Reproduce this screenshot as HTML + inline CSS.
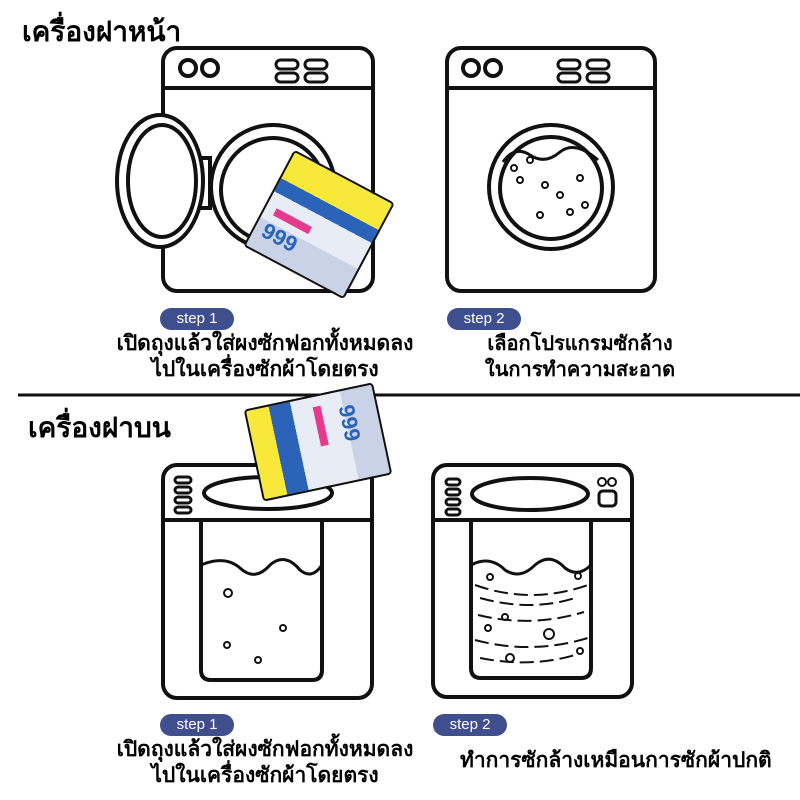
<!DOCTYPE html>
<html><head><meta charset="utf-8"><style>
body{margin:0;background:#fff;width:800px;height:800px;overflow:hidden;position:relative;font-family:"Liberation Sans","Noto Sans CJK SC",sans-serif}
.t{position:absolute;font-weight:bold;color:#000;white-space:nowrap}
.pill{position:absolute;background:#3f4f8e;color:#fff;font-size:15px;border-radius:11px;width:74px;height:22px;line-height:22px;text-align:center}
</style></head><body>
<svg width="800" height="800" style="position:absolute;left:0;top:0" fill="none" stroke="#111" stroke-width="4">
<rect x="163" y="48" width="210" height="243" rx="14"/>
<line x1="163" y1="88" x2="373" y2="88"/>
<circle cx="188" cy="68" r="8"/><circle cx="210" cy="68" r="8"/>
<rect x="276" y="60" width="22" height="9" rx="4.5" stroke-width="3"/><rect x="305" y="60" width="22" height="9" rx="4.5" stroke-width="3"/>
<rect x="276" y="73" width="22" height="9" rx="4.5" stroke-width="3"/><rect x="305" y="73" width="22" height="9" rx="4.5" stroke-width="3"/>
<rect x="198" y="158" width="12" height="50" fill="#fff"/>
<circle cx="273" cy="187" r="62" fill="#fff"/><circle cx="273" cy="190" r="52"/>
<ellipse cx="160" cy="181" rx="43" ry="66" fill="#fff"/><ellipse cx="162" cy="181" rx="34" ry="56"/>
<rect x="447" y="48" width="208" height="243" rx="14"/>
<line x1="447" y1="88" x2="655" y2="88"/>
<circle cx="471" cy="68" r="8"/><circle cx="493" cy="68" r="8"/>
<rect x="558" y="60" width="22" height="9" rx="4.5" stroke-width="3"/><rect x="587" y="60" width="22" height="9" rx="4.5" stroke-width="3"/>
<rect x="558" y="73" width="22" height="9" rx="4.5" stroke-width="3"/><rect x="587" y="73" width="22" height="9" rx="4.5" stroke-width="3"/>
<circle cx="551" cy="187" r="62"/><circle cx="551" cy="188" r="51"/>
<path d="M503 162 Q515 145 530 155 Q545 165 560 152 Q575 140 598 160" stroke-width="3"/>
<g stroke-width="2"><circle cx="514" cy="168" r="3"/><circle cx="530" cy="160" r="3"/><circle cx="545" cy="185" r="3"/><circle cx="580" cy="178" r="3"/><circle cx="520" cy="180" r="3"/><circle cx="560" cy="195" r="3"/><circle cx="585" cy="205" r="3"/><circle cx="540" cy="215" r="3"/><circle cx="570" cy="212" r="3"/></g>
<line x1="18" y1="395" x2="800" y2="395" stroke-width="3"/>
<rect x="163" y="465" width="209" height="233" rx="14"/>
<line x1="163" y1="520" x2="372" y2="520"/>
<ellipse cx="268" cy="493" rx="64" ry="16"/>
<g stroke-width="3"><rect x="175" y="477" width="16" height="6" rx="3"/><rect x="175" y="487" width="16" height="6" rx="3"/><rect x="175" y="497" width="16" height="6" rx="3"/><rect x="175" y="507" width="16" height="6" rx="3"/></g>
<path d="M201 520 V670 Q201 680 211 680 H312 Q322 680 322 670 V520"/>
<path d="M201 565 Q225 555 240 568 Q255 582 270 565 Q285 552 300 570 Q312 580 322 565" stroke-width="3"/>
<g stroke-width="2"><circle cx="228" cy="593" r="4"/><circle cx="227" cy="645" r="3"/><circle cx="283" cy="628" r="3"/><circle cx="258" cy="660" r="3"/></g>
<rect x="433" y="465" width="199" height="232" rx="14"/>
<line x1="433" y1="520" x2="632" y2="520"/>
<ellipse cx="530" cy="494" rx="58" ry="16"/>
<g stroke-width="3"><rect x="446" y="479" width="14" height="6" rx="3"/><rect x="446" y="489" width="14" height="6" rx="3"/><rect x="446" y="499" width="14" height="6" rx="3"/><rect x="446" y="509" width="14" height="6" rx="3"/></g>
<circle cx="602" cy="482" r="4" stroke-width="2"/><circle cx="612" cy="482" r="4" stroke-width="2"/><rect x="599" y="491" width="17" height="15" rx="4" stroke-width="3"/>
<path d="M471 522 V668 Q471 678 481 678 H581 Q591 678 591 668 V522"/>
<path d="M471 565 Q490 555 505 570 Q520 580 535 565 Q550 552 565 568 Q578 578 591 565" stroke-width="3"/>
<g stroke-width="2" stroke-dasharray="14 6"><path d="M475 585 Q531 605 588 585"/><path d="M480 598 Q531 612 575 598"/><path d="M478 615 Q531 628 584 612"/><path d="M475 640 Q531 655 588 638"/><path d="M480 658 Q531 668 575 655"/></g>
<g stroke-width="2"><circle cx="490" cy="577" r="3"/><circle cx="578" cy="576" r="3"/><circle cx="505" cy="617" r="3"/><circle cx="488" cy="628" r="3"/><circle cx="549" cy="634" r="5"/><circle cx="580" cy="651" r="3"/><circle cx="510" cy="658" r="4"/></g>
</svg>
<div style="position:absolute;left:262px;top:170px;width:110px;height:105px;transform:rotate(28deg);border:2px solid #111;border-radius:4px;background:linear-gradient(180deg,#f7e83a 0 28%,#2a63b8 28% 42%,#e8ecf4 42% 70%,#c9d2e6 70%);"><div style="position:absolute;left:8px;top:70px;font-size:22px;font-weight:bold;color:#2a63b8">999</div><div style="position:absolute;left:10px;top:58px;width:40px;height:8px;background:#e63a8c"></div></div>
<div style="position:absolute;left:252px;top:395px;width:128px;height:90px;transform:rotate(-12deg);border:2px solid #111;border-radius:4px;background:linear-gradient(90deg,#f7e83a 0 18%,#2a63b8 18% 35%,#e8ecf4 35% 75%,#c9d2e6 75%);"><div style="position:absolute;left:80px;top:20px;font-size:22px;font-weight:bold;color:#2a63b8;transform:rotate(90deg)">999</div><div style="position:absolute;left:66px;top:10px;width:8px;height:40px;background:#e63a8c"></div></div>
<div class="t" style="left:22px;top:10px;font-size:28px">เครื่องฝาหน้า</div>
<div class="t" style="left:28px;top:406px;font-size:28px">เครื่องฝาบน</div>
<div class="pill" style="left:160px;top:308px">step 1</div>
<div class="pill" style="left:447px;top:308px">step 2</div>
<div class="pill" style="left:160px;top:714px">step 1</div>
<div class="pill" style="left:433px;top:714px">step 2</div>
<div class="t" style="left:65px;top:331px;width:400px;text-align:center;font-size:21px;line-height:26px">เปิดถุงแล้วใส่ผงซักฟอกทั้งหมดลง<br>ไปในเครื่องซักผ้าโดยตรง</div>
<div class="t" style="left:480px;top:331px;width:200px;text-align:center;font-size:20px;line-height:26px">เลือกโปรแกรมซักล้าง<br>ในการทำความสะอาด</div>
<div class="t" style="left:65px;top:737px;width:400px;text-align:center;font-size:21px;line-height:26px">เปิดถุงแล้วใส่ผงซักฟอกทั้งหมดลง<br>ไปในเครื่องซักผ้าโดยตรง</div>
<div class="t" style="left:460px;top:744px;font-size:21px">ทำการซักล้างเหมือนการซักผ้าปกติ</div>
</body></html>
